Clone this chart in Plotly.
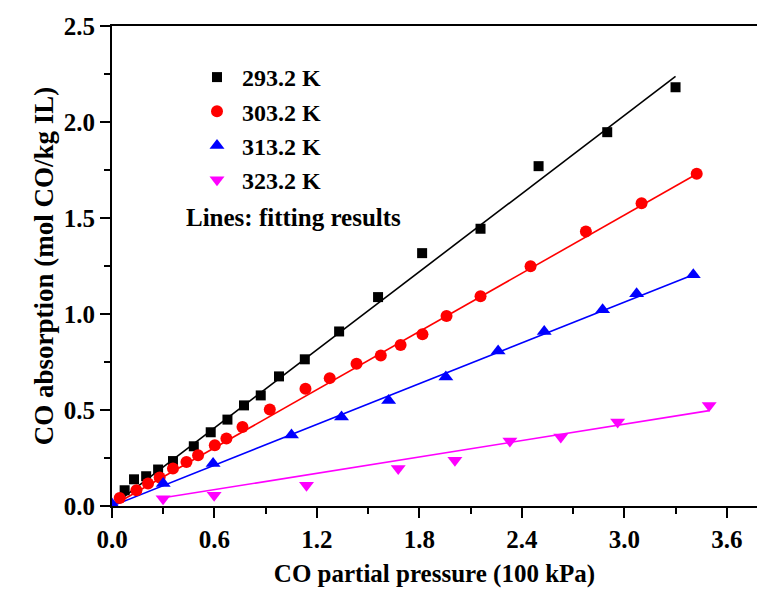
import plotly.graph_objects as go

# ---- data ----
x_293 = [0.074, 0.129, 0.20, 0.27, 0.357, 0.479, 0.578, 0.676, 0.773, 0.871, 0.978,
         1.129, 1.33, 1.558, 1.816, 2.158, 2.498, 2.90, 3.30]
y_293 = [0.082, 0.139, 0.155, 0.19, 0.234, 0.311, 0.384, 0.45, 0.524, 0.576, 0.675,
         0.764, 0.909, 1.088, 1.317, 1.444, 1.77, 1.947, 2.181]

x_303 = [0.045, 0.143, 0.211, 0.279, 0.357, 0.436, 0.504, 0.602, 0.67, 0.764, 0.924,
         1.133, 1.275, 1.432, 1.574, 1.69, 1.818, 1.959, 2.158, 2.451, 2.775, 3.101, 3.424]
y_303 = [0.042, 0.082, 0.117, 0.148, 0.195, 0.229, 0.264, 0.316, 0.351, 0.411, 0.503,
         0.611, 0.666, 0.741, 0.784, 0.838, 0.894, 0.989, 1.093, 1.249, 1.43, 1.577, 1.73]

x_313 = [0.0, 0.30, 0.592, 1.051, 1.344, 1.62, 1.955, 2.261, 2.531, 2.873, 3.072, 3.404]
y_313 = [0.01, 0.117, 0.222, 0.37, 0.463, 0.55, 0.672, 0.807, 0.909, 1.022, 1.106, 1.205]

x_323 = [0.299, 0.598, 1.139, 1.676, 2.008, 2.33, 2.628, 2.961, 3.497]
y_323 = [0.038, 0.056, 0.108, 0.195, 0.238, 0.338, 0.359, 0.437, 0.524]

# fitted lines: slope and x-span of each fit
fit_slope = [0.678, 0.505, 0.354, 0.142]
fit_xspan = [(0.0, 3.30), (0.0, 3.424), (0.0, 3.404), (0.30, 3.497)]

labels = ["293.2 K", "303.2 K", "313.2 K", "323.2 K"]
colors = ["#000000", "#ff0000", "#0000ff", "#ff00ff"]
symbols = ["square", "circle", "triangle-up", "triangle-down"]
sizes = [10, 12, 13, 13]

xs = [x_293, x_303, x_313, x_323]
ys = [y_293, y_303, y_313, y_323]

FONT = "Times New Roman, Liberation Serif, serif"
FS = 25

fig = go.Figure()
for i in range(4):
    x0, x1 = fit_xspan[i]
    fig.add_trace(go.Scatter(
        x=[x0, x1], y=[fit_slope[i] * x0, fit_slope[i] * x1],
        mode="lines", line=dict(color=colors[i], width=1.6),
        showlegend=False, hoverinfo="skip"))
for i in range(4):
    fig.add_trace(go.Scatter(
        x=xs[i], y=ys[i], mode="markers", name=labels[i],
        legendgroup=f"g{i}",
        marker=dict(symbol=symbols[i], size=sizes[i], color=colors[i],
                    line=dict(width=0))))

fig.add_annotation(
    text="Lines: fitting results", xref="paper", yref="paper",
    x=(184 - 112) / 645, y=(506 - 217) / 480, xanchor="left", yanchor="middle",
    showarrow=False, font=dict(family=FONT, size=FS, color="black", weight="bold"))

axis_common = dict(
    showline=True, linecolor="black", linewidth=2,
    ticks="outside", ticklen=10, tickwidth=2, tickcolor="black",
    showgrid=False, zeroline=False,
    tickfont=dict(family=FONT, size=FS, color="black", weight="bold"),
)

fig.update_layout(
    width=757, height=592,
    margin=dict(l=112, r=0, t=26, b=86),
    paper_bgcolor="white", plot_bgcolor="white",
    font=dict(family=FONT, color="black"),
    xaxis=dict(
        range=[0, 3.777], tick0=0, dtick=0.6, tickformat=".1f",
        mirror=True,
        minor=dict(dtick=0.3, ticklen=6, tickwidth=2, tickcolor="black", ticks="outside"),
        title=dict(text="CO partial pressure (100 kPa)",
                   font=dict(family=FONT, size=FS, color="black", weight="bold"),
                   standoff=12),
        **axis_common),
    yaxis=dict(
        range=[0, 2.5], tick0=0, dtick=0.5, tickformat=".1f",
        minor=dict(dtick=0.25, ticklen=6, tickwidth=2, tickcolor="black", ticks="outside"),
        title=dict(text="CO absorption (mol CO/kg IL)",
                   font=dict(family=FONT, size=27, color="black", weight="bold"),
                   standoff=2),
        **axis_common),
    legend=dict(
        x=(192 - 112) / 645, y=(506 - 55) / 480, xanchor="left", yanchor="top",
        bgcolor="rgba(0,0,0,0)", borderwidth=0,
        traceorder="grouped", tracegroupgap=0, itemwidth=40,
        font=dict(family=FONT, size=24, color="black", weight="bold"),
    ),
)

fig.write_html("out.html")
